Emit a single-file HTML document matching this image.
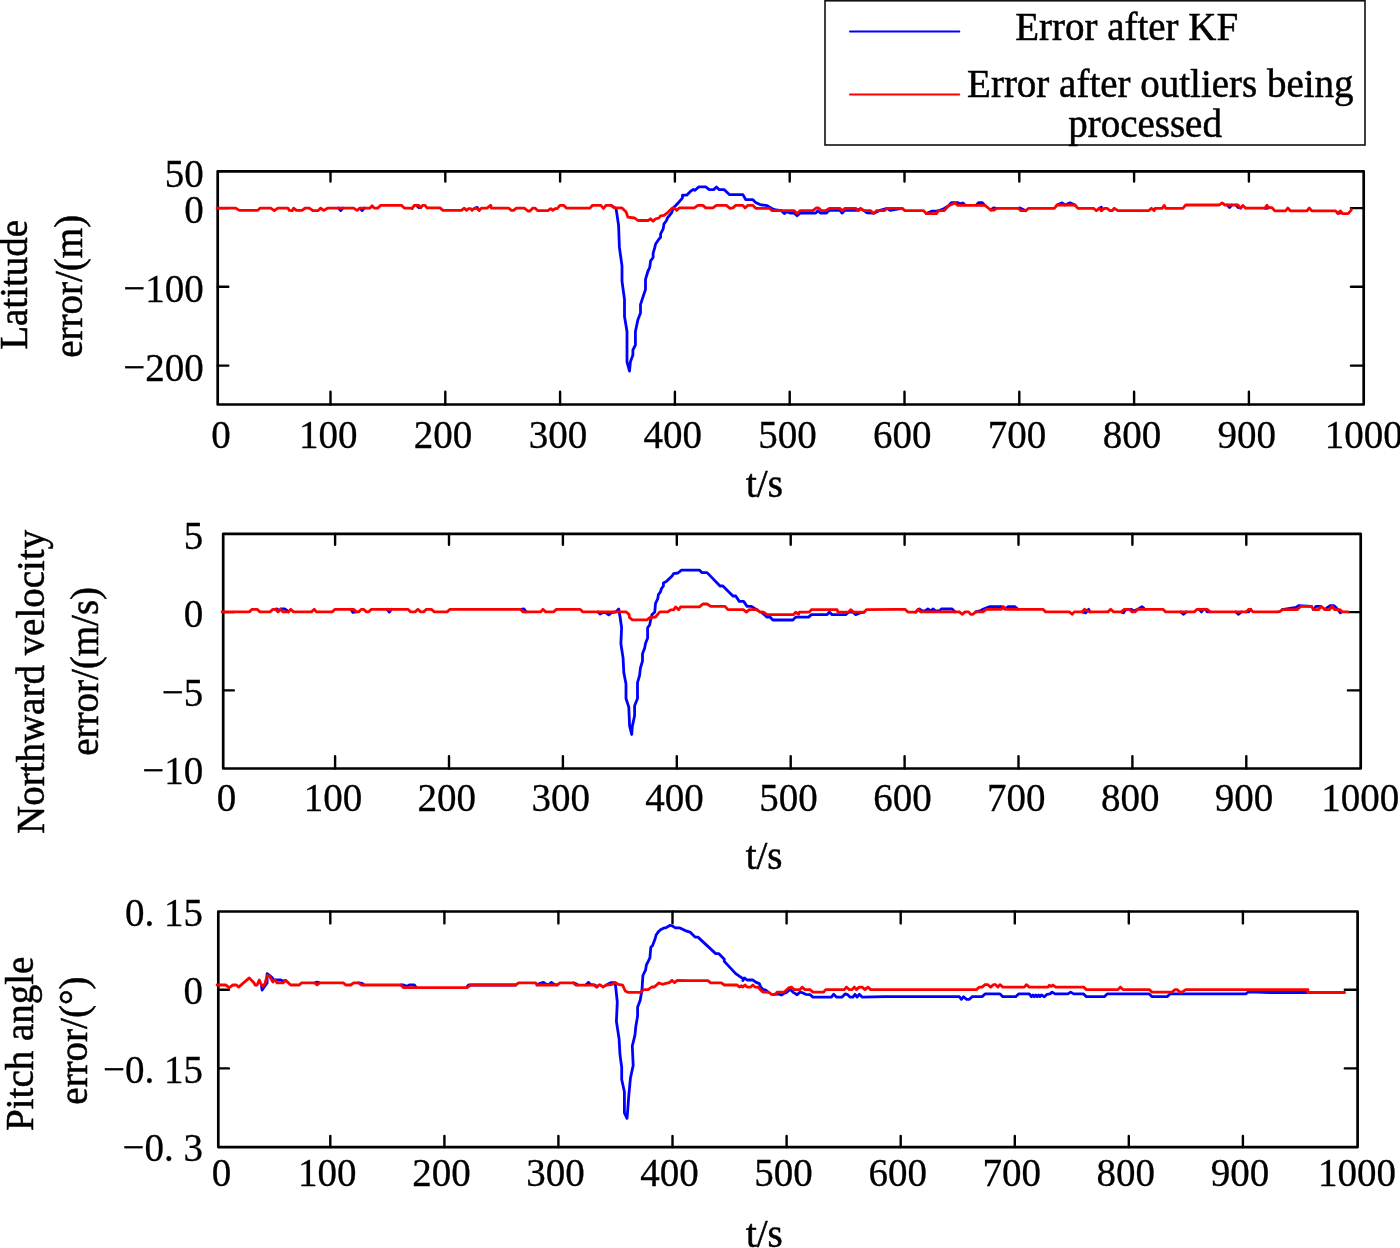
<!DOCTYPE html><html><head><meta charset="utf-8"><style>html,body{margin:0;padding:0;background:#fff;overflow:hidden}svg{display:block;will-change:transform}text{font-family:"Liberation Serif", serif;font-size:39px;fill:#000;stroke:#000;stroke-width:0.5px}.n{stroke-width:0.3px}</style></head><body>
<svg width="1400" height="1248" viewBox="0 0 1400 1248">
<rect width="1400" height="1248" fill="#fff"/>
<path d="M330.5 404.5V391.8M330.5 171.3V181.5M445.3 404.5V391.8M445.3 171.3V181.5M560.1 404.5V391.8M560.1 171.3V181.5M674.9 404.5V391.8M674.9 171.3V181.5M789.7 404.5V391.8M789.7 171.3V181.5M904.5 404.5V391.8M904.5 171.3V181.5M1019.3 404.5V391.8M1019.3 171.3V181.5M1134.1 404.5V391.8M1134.1 171.3V181.5M1248.9 404.5V391.8M1248.9 171.3V181.5M217.7 208.1H228.3M1363.7 208.1H1350.9M217.7 286.7H228.3M1363.7 286.7H1350.9M217.7 365.6H228.3M1363.7 365.6H1350.9" stroke="#000" stroke-width="2.4" fill="none" stroke-linecap="round"/>
<rect x="217.7" y="171.3" width="1146.0" height="233.2" fill="none" stroke="#000" stroke-width="2.7" stroke-linejoin="round"/>
<path d="M338.5 208.1L340.7 210.6L342.9 208.1M359.9 208.2L362.1 210.6L364.3 208.1M416.4 205.3L418.6 207.6L420.8 207.5M474.9 208.2L477.1 207.4L479.3 210.4M611.0 205.3L616.1 208.7L618.6 225.5L619.4 247.4L622.0 265.9L622.0 281.1L624.5 299.6L624.5 316.4L627.0 331.5L627.0 361.8L629.5 371.1L630.4 361.8L632.9 355.1L632.9 350.0L635.4 345.0L635.4 331.5L637.9 319.8L640.5 313.0L640.5 304.6L643.8 294.5L645.5 289.5L645.5 279.4L648.0 271.0L649.7 267.6L650.6 260.9L653.1 257.5L653.1 253.3L654.8 247.4L655.6 244.0L659.0 239.0L660.6 237.3L660.6 233.9L663.2 228.9L664.0 223.8L666.5 220.5L667.4 218.0L671.6 212.9L673.3 207.9L678.3 202.8L682.5 197.8L682.5 195.2L686.7 195.2L690.9 191.0L692.1 190.3L693.4 189.4L695.0 190.3L698.6 186.9L705.7 186.9L709.3 189.7L713.6 189.7L716.4 186.9L719.3 189.7L724.3 189.7L729.3 194.6L742.9 194.6L745.7 199.7L752.9 199.7L755.7 202.6L760.0 204.6L767.1 205.7L771.4 208.3L775.7 210.0L781.4 210.7L784.3 213.6L787.1 211.7L790.0 213.1L794.3 213.1L797.1 215.7L800.0 213.1L815.7 213.1L817.9 210.7L820.7 213.1L826.4 213.1L829.3 210.3L840.0 210.3L842.1 213.1L845.0 210.3L857.1 210.3L860.0 208.9M863.6 210.3L867.1 212.9L874.3 213.1L877.1 211.7L880.0 210.3L887.1 208.3L890.0 210.3L902.1 208.3M926.4 213.6L932.1 211.1L936.4 211.1L938.6 210.7L943.6 208.9L948.6 205.7L951.4 202.6L957.9 202.6L960.7 204.3L962.9 202.9L965.0 205.0M976.4 205.0L978.6 202.6L982.1 202.6L985.0 205.4M990.7 210.0L993.6 207.9L996.4 208.3M1018.6 208.3L1020.0 207.9L1025.7 210.7M1057.1 205.0L1062.1 202.9L1065.0 205.0L1070.0 202.9L1075.0 205.0M1099.3 208.3L1101.4 207.2L1101.4 210.7M1227.4 205.0L1229.6 207.5L1231.8 205.0M1236.0 205.0L1238.2 207.7L1240.4 207.9M1264.7 208.1L1266.9 208.3L1269.1 207.6M1337.3 212.9L1339.5 213.1L1341.7 212.6" fill="none" stroke="#0000ff" stroke-width="2.8" stroke-linejoin="round" stroke-linecap="round"/>
<polyline points="217.7,208.1 217.1,208.1 235.7,208.1 239.3,210.4 257.9,210.4 260.0,208.1 270.7,208.1 274.3,210.7 277.9,208.1 287.9,208.1 289.3,210.4 292.1,210.7 293.6,208.1 296.4,210.4 302.1,210.4 305.0,208.1 309.3,208.1 312.9,210.7 317.9,210.7 320.7,208.1 323.6,210.4 327.9,208.1 353.6,208.1 357.1,210.4 360.0,208.1 370.0,208.1 372.1,205.7 374.3,208.1 377.9,208.1 380.7,205.3 401.4,205.3 404.3,208.1 410.7,208.1 412.1,208.6 414.3,205.3 415.0,205.3 418.6,205.3 420.7,207.6 422.9,205.3 425.0,205.3 427.1,207.9 440.0,207.9 442.9,210.4 461.4,210.4 464.3,208.1 466.4,210.4 468.6,208.6 470.7,208.6 472.1,210.4 474.3,208.1 477.1,208.6 479.3,210.4 481.4,208.1 487.1,208.1 489.3,206.4 490.7,205.3 491.4,208.1 508.6,208.1 511.4,210.4 513.6,210.4 516.4,208.1 524.3,208.1 527.9,211.0 530.0,211.0 532.9,208.1 535.0,208.1 537.9,210.7 547.9,210.7 550.7,208.6 552.9,210.4 555.0,208.6 557.1,208.6 560.0,205.3 563.6,205.3 566.4,208.1 590.0,208.1 592.5,205.3 600.9,205.3 603.5,208.4 606.0,205.3 611.0,205.3 614.4,207.9 622.0,207.9 626.2,212.1 627.8,217.1 634.6,218.0 637.9,220.5 648.0,220.5 650.6,218.8 653.1,221.3 655.6,218.8 659.0,218.0 660.6,215.8 664.0,215.4 668.2,212.1 672.4,207.9 675.0,208.7 676.6,210.4 679.2,207.9 686.0,207.9 694.3,207.9 697.9,205.4 702.9,205.4 705.7,207.9 712.9,207.9 716.4,205.4 726.4,205.4 730.0,208.3 732.9,207.9 735.7,205.4 742.9,205.4 745.0,207.9 747.9,205.4 752.9,205.4 755.7,208.3 769.3,208.3 772.1,210.7 794.3,210.7 797.1,213.6 800.0,210.7 812.9,210.7 816.4,207.9 818.6,207.9 821.4,210.7 825.7,210.7 829.3,208.3 840.0,208.3 842.1,210.7 845.0,208.3 855.7,208.3 858.6,210.7 860.7,208.3 863.6,210.7 870.7,210.7 873.6,213.6 876.4,210.7 884.3,210.7 887.1,208.3 887.1,208.3 902.1,208.3 905.0,210.7 923.6,210.7 926.4,213.6 936.4,213.6 938.6,210.7 944.3,210.7 948.6,205.7 952.1,204.3 955.0,202.9 957.9,205.4 985.0,205.4 990.7,210.0 994.3,210.0 996.4,208.3 1018.6,208.3 1020.7,210.7 1025.7,210.7 1028.6,208.3 1054.3,208.3 1057.1,205.0 1075.0,205.0 1077.9,208.3 1085.0,208.3 1093.6,208.3 1096.4,210.7 1099.3,208.3 1101.4,210.7 1104.3,208.3 1107.1,208.3 1110.0,210.7 1112.1,210.7 1114.3,208.3 1117.9,210.7 1148.6,210.7 1151.4,208.3 1154.3,210.7 1155.0,208.3 1162.1,208.3 1164.3,205.4 1165.7,208.3 1182.9,208.3 1185.7,205.0 1219.3,205.0 1222.1,202.9 1225.0,205.0 1237.9,205.0 1240.7,208.3 1242.9,205.4 1245.7,208.3 1246.0,208.1 1265.1,208.1 1266.9,205.3 1268.8,207.6 1272.0,207.6 1274.8,210.9 1285.5,210.9 1287.8,208.1 1290.6,210.9 1306.9,210.9 1309.2,208.1 1312.0,210.9 1335.6,210.9 1338.0,213.7 1340.3,210.9 1342.6,213.7 1348.2,213.7 1351.0,210.4 1351.4,209.5" fill="none" stroke="#ff0000" stroke-width="2.8" stroke-linejoin="round" stroke-linecap="round"/>
<text transform="translate(220.9 447.8) scale(1 1.050)" text-anchor="middle" class="n">0</text>
<text transform="translate(328.3 447.8) scale(1 1.050)" text-anchor="middle" class="n">100</text>
<text transform="translate(443.1 447.8) scale(1 1.050)" text-anchor="middle" class="n">200</text>
<text transform="translate(557.9 447.8) scale(1 1.050)" text-anchor="middle" class="n">300</text>
<text transform="translate(672.7 447.8) scale(1 1.050)" text-anchor="middle" class="n">400</text>
<text transform="translate(787.5 447.8) scale(1 1.050)" text-anchor="middle" class="n">500</text>
<text transform="translate(902.3 447.8) scale(1 1.050)" text-anchor="middle" class="n">600</text>
<text transform="translate(1017.1 447.8) scale(1 1.050)" text-anchor="middle" class="n">700</text>
<text transform="translate(1131.9 447.8) scale(1 1.050)" text-anchor="middle" class="n">800</text>
<text transform="translate(1246.7 447.8) scale(1 1.050)" text-anchor="middle" class="n">900</text>
<text transform="translate(1363.7 447.8) scale(1 1.050)" text-anchor="middle" class="n">1000</text>
<text transform="translate(203.7 186.6) scale(1 1.050)" text-anchor="end" class="n">50</text>
<text transform="translate(203.7 223.1) scale(1 1.050)" text-anchor="end" class="n">0</text>
<text transform="translate(203.7 302.0) scale(1 1.050)" text-anchor="end" class="n">−100</text>
<text transform="translate(203.7 380.9) scale(1 1.050)" text-anchor="end" class="n">−200</text>
<text transform="translate(27.4 284.8) rotate(-90) scale(1 1.050)" text-anchor="middle">Latitude</text>
<text transform="translate(82.3 286.3) rotate(-90) scale(1 1.050)" text-anchor="middle">error/(m)</text>
<text transform="translate(746.0 496.9) scale(1 1.050)">t/s</text>
<path d="M335.1 768.5V756.3M335.1 533.9V544.7M449.0 768.5V756.3M449.0 533.9V544.7M562.9 768.5V756.3M562.9 533.9V544.7M676.8 768.5V756.3M676.8 533.9V544.7M790.7 768.5V756.3M790.7 533.9V544.7M904.6 768.5V756.3M904.6 533.9V544.7M1018.5 768.5V756.3M1018.5 533.9V544.7M1132.4 768.5V756.3M1132.4 533.9V544.7M1246.3 768.5V756.3M1246.3 533.9V544.7M223.2 612.1H233.8M1360.7 612.1H1347.9M223.2 690.4H233.8M1360.7 690.4H1347.9" stroke="#000" stroke-width="2.4" fill="none" stroke-linecap="round"/>
<rect x="223.2" y="533.9" width="1137.5" height="234.6" fill="none" stroke="#000" stroke-width="2.7" stroke-linejoin="round"/>
<path d="M275.0 609.3L277.1 609.0L278.6 610.7M280.7 609.0L285.0 609.0L287.1 610.7L288.6 611.9M350.7 609.3L352.9 612.4L356.4 611.9M387.1 609.3L389.3 612.1L391.4 609.3M520.7 609.3L523.9 609.0L525.3 610.7L526.1 611.9M597.9 611.9L600.0 614.1L602.9 612.6L605.8 612.6L608.7 614.8L611.5 612.6L615.9 611.9L618.7 609.0L620.2 617.7L621.6 627.8L620.9 643.7L623.1 658.1L623.8 672.5L626.0 684.0L626.0 698.5L628.8 707.1L629.6 725.9L631.7 734.5L632.4 725.9L634.6 715.8L634.6 705.7L637.5 698.5L637.5 682.6L639.6 675.4L640.4 668.2L642.5 661.0L642.5 653.8L644.7 648.0L645.4 643.7L647.6 637.9L647.6 627.8L649.7 624.9L650.5 620.6L651.9 614.8L654.8 611.9L655.5 603.3L657.7 598.9L658.4 594.6L660.6 591.7L661.3 588.8L663.4 586.0L663.4 583.1L666.3 581.6L672.1 575.9L673.5 573.7L677.9 573.0L681.5 570.1L699.5 570.1L700.0 570.7L702.1 572.6L707.1 572.6L712.9 578.6L720.0 586.0L722.9 586.0L732.9 596.0L735.7 596.0L739.3 601.4L743.6 601.4L747.1 606.4L751.4 606.4L757.1 610.0M761.4 612.1L767.1 617.1L770.0 617.1L772.9 620.0L792.9 620.0L795.7 617.1L808.6 617.1L811.4 614.6L827.1 614.6L829.3 612.1L832.1 614.6L845.7 614.6L848.6 612.1L852.9 612.1L855.7 614.6L860.0 612.9L864.3 612.1M915.7 612.1L919.3 609.0L922.1 611.0L925.0 611.0L927.9 609.0L930.7 611.0L932.9 609.0L935.7 611.0L939.3 611.0L941.4 609.0L952.1 609.0L955.0 611.9M975.7 611.9L980.7 610.7L982.9 609.3L989.3 606.7L1002.1 606.7L1005.0 609.3L1007.9 606.7L1015.0 606.7L1017.9 609.3M1082.1 611.9L1085.7 612.9L1088.6 609.3L1090.0 611.9M1121.4 611.9L1123.6 612.9L1125.7 609.3L1131.4 609.3L1132.9 611.0L1137.9 609.3L1142.1 606.7L1145.0 609.3M1180.7 611.9L1183.6 614.3L1186.4 611.9M1199.3 609.3L1201.4 611.9L1203.6 609.3M1205.7 609.3L1207.1 611.9L1210.0 611.9M1235.7 611.9L1238.6 614.3L1241.4 611.9M1246.4 611.9L1248.6 611.9L1250.7 609.3M1282.2 609.6L1296.1 607.4L1298.6 605.7L1311.5 606.4M1313.4 609.6L1316.0 606.4L1320.5 606.4M1325.0 609.6L1327.6 607.4L1330.1 605.7L1334.0 605.7L1336.6 608.0L1340.4 612.8L1341.7 611.9" fill="none" stroke="#0000ff" stroke-width="2.8" stroke-linejoin="round" stroke-linecap="round"/>
<polyline points="223.2,611.9 222.1,611.9 249.3,611.9 252.1,609.3 257.1,609.3 260.0,611.9 270.0,611.9 272.9,609.3 275.7,609.3 277.9,611.9 280.7,609.3 282.9,611.9 288.6,611.9 290.7,609.3 293.6,611.9 311.4,611.9 314.3,609.3 316.4,611.9 332.1,611.9 335.0,609.3 353.6,609.3 356.4,611.9 358.6,611.9 361.4,609.3 363.6,609.3 366.4,611.9 368.6,611.9 371.4,609.3 407.9,609.3 410.7,611.9 415.0,611.9 417.9,609.3 420.7,611.9 423.6,611.9 426.4,609.3 431.4,609.3 434.3,611.9 447.1,611.9 450.0,609.3 520.7,609.3 522.9,611.9 540.7,611.9 542.9,609.3 545.7,611.9 553.6,611.9 556.4,609.3 580.0,609.3 582.9,611.9 600.0,611.9 626.0,611.9 628.8,614.1 629.6,617.7 632.4,619.9 646.9,619.9 649.7,617.7 655.5,617.0 659.8,611.9 667.8,611.9 670.6,609.8 673.5,609.8 675.7,606.9 678.6,609.8 680.7,606.9 699.5,606.9 700.0,606.4 702.9,604.0 707.1,604.0 710.7,606.4 725.0,606.4 727.9,609.7 743.6,609.7 746.4,612.1 749.3,609.7 757.1,609.7 760.0,612.1 763.6,612.1 767.1,614.6 793.6,614.6 795.7,612.1 798.6,614.3 799.3,612.1 809.3,612.1 811.4,609.7 837.1,609.7 837.9,612.1 848.6,612.1 850.7,609.7 853.6,612.1 864.3,612.1 866.4,609.7 895.0,609.3 905.0,609.3 907.9,612.1 915.7,612.1 917.9,609.3 920.7,611.9 959.3,611.9 962.1,614.3 965.0,611.9 968.6,611.9 970.7,614.3 972.9,614.3 975.7,611.9 982.9,611.9 986.4,609.3 1001.4,609.3 1003.6,606.7 1006.4,609.3 1042.9,609.3 1045.7,611.9 1069.3,611.9 1072.1,614.3 1074.3,611.9 1082.1,611.9 1084.3,609.3 1090.0,611.9 1107.9,611.9 1110.7,609.3 1113.6,611.9 1121.4,611.9 1124.3,609.3 1129.3,609.3 1132.1,611.9 1135.0,611.9 1137.9,609.3 1162.9,609.3 1165.7,611.9 1194.3,611.9 1197.1,609.3 1207.1,609.3 1210.0,611.9 1246.4,611.9 1248.6,609.3 1250.7,609.3 1252.9,611.9 1277.1,611.9 1280.0,611.5 1282.2,609.6 1297.4,609.6 1300.6,606.4 1311.5,606.4 1313.4,609.6 1318.6,609.6 1321.1,606.4 1325.0,609.6 1329.5,609.6 1332.1,606.4 1334.6,609.6 1339.8,609.6 1342.3,611.9 1348.1,611.9" fill="none" stroke="#ff0000" stroke-width="2.8" stroke-linejoin="round" stroke-linecap="round"/>
<text transform="translate(226.4 810.5) scale(1 1.050)" text-anchor="middle" class="n">0</text>
<text transform="translate(332.9 810.5) scale(1 1.050)" text-anchor="middle" class="n">100</text>
<text transform="translate(446.8 810.5) scale(1 1.050)" text-anchor="middle" class="n">200</text>
<text transform="translate(560.7 810.5) scale(1 1.050)" text-anchor="middle" class="n">300</text>
<text transform="translate(674.6 810.5) scale(1 1.050)" text-anchor="middle" class="n">400</text>
<text transform="translate(788.5 810.5) scale(1 1.050)" text-anchor="middle" class="n">500</text>
<text transform="translate(902.4 810.5) scale(1 1.050)" text-anchor="middle" class="n">600</text>
<text transform="translate(1016.3 810.5) scale(1 1.050)" text-anchor="middle" class="n">700</text>
<text transform="translate(1130.2 810.5) scale(1 1.050)" text-anchor="middle" class="n">800</text>
<text transform="translate(1244.1 810.5) scale(1 1.050)" text-anchor="middle" class="n">900</text>
<text transform="translate(1360.2 810.5) scale(1 1.050)" text-anchor="middle" class="n">1000</text>
<text transform="translate(203.3 549.2) scale(1 1.050)" text-anchor="end" class="n">5</text>
<text transform="translate(203.3 627.4) scale(1 1.050)" text-anchor="end" class="n">0</text>
<text transform="translate(203.3 705.7) scale(1 1.050)" text-anchor="end" class="n">−5</text>
<text transform="translate(203.3 783.8) scale(1 1.050)" text-anchor="end" class="n">−10</text>
<text transform="translate(44.2 681.9) rotate(-90) scale(1 1.050)" text-anchor="middle">Northward velocity</text>
<text transform="translate(98.0 671.4) rotate(-90) scale(1 1.050)" text-anchor="middle">error/(m/s)</text>
<text transform="translate(745.7 868.6) scale(1 1.050)">t/s</text>
<path d="M330.3 1147.1V1135.9M330.3 911.5V923.4M444.4 1147.1V1135.9M444.4 911.5V923.4M558.4 1147.1V1135.9M558.4 911.5V923.4M672.5 1147.1V1135.9M672.5 911.5V923.4M786.6 1147.1V1135.9M786.6 911.5V923.4M900.7 1147.1V1135.9M900.7 911.5V923.4M1014.8 1147.1V1135.9M1014.8 911.5V923.4M1128.8 1147.1V1135.9M1128.8 911.5V923.4M1242.9 1147.1V1135.9M1242.9 911.5V923.4M218.3 989.8H228.9M1357.6 989.8H1344.8M218.3 1068.4H228.9M1357.6 1068.4H1344.8" stroke="#000" stroke-width="2.4" fill="none" stroke-linecap="round"/>
<rect x="218.3" y="911.5" width="1139.3" height="235.6" fill="none" stroke="#000" stroke-width="2.7" stroke-linejoin="round"/>
<path d="M261.4 985.0L262.1 990.0L267.1 982.9L267.1 973.6L272.1 977.6L273.6 980.0L277.9 980.0L280.7 980.0L282.9 981.0L285.7 980.4M315.0 982.9L317.1 982.1L319.3 982.9M358.6 982.9L362.1 983.3L364.3 985.0M400.7 985.0L403.6 985.0L407.1 986.4L409.3 985.0L410.0 985.0L414.3 985.0L416.4 987.6M466.4 987.6L468.6 985.0L515.7 985.0M537.1 985.0L539.3 983.6L543.6 982.4L546.4 984.3L549.3 984.3L551.4 982.4L554.3 984.3L557.1 985.0M573.6 982.9L575.7 983.6L577.9 985.0M585.7 985.0L588.6 982.4L590.0 984.3L595.3 985.2L597.1 987.0M605.9 985.2L611.2 982.6L614.7 982.6L615.6 986.1L617.3 1002.0L616.4 1021.3L619.1 1039.0L620.0 1054.8L621.7 1067.2L621.7 1079.5L624.4 1091.8L624.4 1113.0L627.0 1118.3L627.9 1107.7L628.8 1095.4L630.5 1077.7L633.2 1065.4L632.3 1046.0L634.9 1035.4L635.8 1026.6L637.6 1016.1L637.6 1007.2L640.2 1000.2L642.0 989.6L642.9 975.5L645.5 970.2L646.4 964.9L648.2 961.4L649.9 957.9L650.8 947.3L652.6 945.5L655.2 938.5L656.1 935.0L658.7 931.4L660.5 929.7L664.0 927.9L665.8 927.9L670.2 925.3L672.8 926.2L675.5 927.9L679.9 927.9L685.2 930.6L690.0 932.1L695.0 937.1L697.9 937.1L715.7 953.6L718.6 953.6L724.3 959.3L724.3 961.4L734.3 972.1L735.7 973.6L742.9 978.6L742.9 980.7L744.3 977.9L747.1 980.0L752.9 980.0L755.7 982.1L759.3 983.6L760.7 987.1L762.9 989.3L765.7 990.0L767.9 992.1M772.9 994.3L778.6 993.9L781.4 995.0L785.0 992.9L787.1 992.1L790.0 989.3L792.9 992.1L797.1 994.7L800.0 992.1L802.9 992.9L805.7 994.3L810.0 994.7L812.9 997.1L831.4 997.1L833.6 994.3L836.4 997.1L842.1 997.1L845.0 994.0L847.1 994.3L850.0 997.1L852.9 997.1L855.0 994.3L857.1 997.1L859.3 994.3L862.1 997.1L885.0 996.7L959.3 996.7L961.4 999.3L963.6 996.7L966.4 999.3L969.3 999.3L972.1 996.7L982.1 996.7L985.0 993.9L1000.0 993.9L1002.9 996.7L1015.7 996.7L1018.6 993.9L1029.3 993.9L1031.4 996.7L1032.9 995.0L1034.3 996.7L1035.7 995.0L1037.1 996.7L1038.6 995.0L1040.0 996.7L1041.4 995.0L1044.3 996.7L1047.1 994.3L1050.0 993.9L1052.1 992.1L1055.0 993.9L1067.9 993.9L1070.7 992.1L1073.6 993.9L1080.0 993.9L1083.6 993.9L1086.4 996.7L1104.3 996.7L1107.1 993.9L1149.3 993.9L1152.1 996.7L1167.1 996.7L1170.0 993.9L1245.7 993.9L1248.6 991.9L1270.0 992.5L1306.4 992.5" fill="none" stroke="#0000ff" stroke-width="2.8" stroke-linejoin="round" stroke-linecap="round"/>
<polyline points="218.3,985.0 217.1,985.0 225.7,985.0 229.3,987.6 232.9,985.0 236.4,985.0 238.6,987.1 249.3,977.9 254.3,983.3 255.0,985.0 257.1,985.0 259.3,980.0 260.7,983.6 262.9,986.4 265.0,983.6 267.1,975.7 269.3,976.1 272.9,982.1 273.6,980.7 275.0,980.0 277.1,982.9 282.9,982.9 285.7,980.4 290.7,985.0 299.3,985.0 301.4,982.9 315.0,982.9 317.1,985.0 319.3,982.9 343.6,982.9 345.7,985.0 350.7,985.0 353.6,982.9 358.6,982.9 361.4,985.0 400.7,985.0 403.6,987.6 410.0,987.6 467.1,987.6 470.7,985.0 515.7,985.0 518.6,982.9 535.7,982.9 537.1,985.0 557.1,985.0 560.0,982.9 573.6,982.9 575.7,985.0 590.0,985.2 594.4,985.2 596.2,987.0 599.7,984.7 603.2,987.0 605.9,985.2 611.2,984.7 615.6,982.6 618.2,984.3 622.6,985.2 625.3,991.0 627.9,992.3 640.2,992.3 643.8,989.6 648.2,989.6 651.7,987.0 654.3,987.0 658.7,982.9 662.3,984.3 665.8,983.4 669.3,982.6 672.0,980.4 674.6,982.6 677.3,980.4 690.0,980.7 707.9,980.7 710.7,982.9 721.4,982.9 724.3,985.0 737.1,985.0 739.3,987.1 741.4,985.7 742.9,987.1 745.0,985.0 747.1,987.1 750.7,987.1 752.9,985.0 755.0,987.1 757.9,987.1 761.4,990.7 762.9,992.1 768.6,992.1 771.4,994.3 775.7,994.3 777.1,992.1 784.3,992.1 788.6,987.9 791.4,987.1 794.3,989.6 800.0,989.6 802.1,987.1 805.0,989.6 810.0,989.6 812.9,992.1 823.6,992.1 825.7,989.6 844.3,989.6 846.4,987.1 849.3,989.6 852.1,989.6 854.3,987.1 856.4,989.6 859.3,987.1 862.1,987.1 865.0,989.6 867.9,987.1 870.7,989.6 885.0,989.6 976.4,989.6 979.3,987.1 982.1,987.1 985.0,984.7 987.9,984.7 990.7,987.1 993.6,984.7 995.7,984.7 997.9,987.1 1000.0,984.7 1002.9,987.1 1024.3,987.1 1026.4,984.7 1029.3,987.1 1047.9,987.1 1049.3,985.3 1051.4,986.4 1052.9,985.0 1055.7,987.1 1080.0,987.1 1083.6,987.1 1086.4,989.6 1117.9,989.6 1120.3,987.1 1122.9,989.6 1149.3,989.6 1152.1,992.1 1172.1,992.1 1175.0,989.6 1177.1,989.6 1180.0,992.1 1182.1,992.1 1185.7,989.6 1270.0,989.6 1307.9,989.6 1307.9,992.5 1344.6,992.5" fill="none" stroke="#ff0000" stroke-width="2.8" stroke-linejoin="round" stroke-linecap="round"/>
<text transform="translate(221.5 1185.9) scale(1 1.050)" text-anchor="middle" class="n">0</text>
<text transform="translate(327.3 1185.9) scale(1 1.050)" text-anchor="middle" class="n">100</text>
<text transform="translate(441.4 1185.9) scale(1 1.050)" text-anchor="middle" class="n">200</text>
<text transform="translate(555.4 1185.9) scale(1 1.050)" text-anchor="middle" class="n">300</text>
<text transform="translate(669.5 1185.9) scale(1 1.050)" text-anchor="middle" class="n">400</text>
<text transform="translate(783.6 1185.9) scale(1 1.050)" text-anchor="middle" class="n">500</text>
<text transform="translate(897.7 1185.9) scale(1 1.050)" text-anchor="middle" class="n">600</text>
<text transform="translate(1011.8 1185.9) scale(1 1.050)" text-anchor="middle" class="n">700</text>
<text transform="translate(1125.8 1185.9) scale(1 1.050)" text-anchor="middle" class="n">800</text>
<text transform="translate(1239.9 1185.9) scale(1 1.050)" text-anchor="middle" class="n">900</text>
<text transform="translate(1357.0 1185.9) scale(1 1.050)" text-anchor="middle" class="n">1000</text>
<text transform="translate(203.0 925.8) scale(1 1.050)" text-anchor="end" class="n">0. 15</text>
<text transform="translate(203.0 1004.1) scale(1 1.050)" text-anchor="end" class="n">0</text>
<text transform="translate(203.0 1082.7) scale(1 1.050)" text-anchor="end" class="n">−0. 15</text>
<text transform="translate(203.0 1161.4) scale(1 1.050)" text-anchor="end" class="n">−0. 3</text>
<text transform="translate(32.9 1043.8) rotate(-90) scale(1 1.050)" text-anchor="middle">Pitch angle</text>
<text transform="translate(86.5 1040.6) rotate(-90) scale(1 1.050)" text-anchor="middle">error/(°)</text>
<text transform="translate(745.9 1247.4) scale(1 1.050)">t/s</text>
<rect x="825" y="0.8" width="540" height="144.2" fill="none" stroke="#111" stroke-width="1.6"/>
<path d="M850 31.4H959.3" stroke="#0000ff" stroke-width="2" stroke-linecap="round"/>
<path d="M850 94.6H959.3" stroke="#ff0000" stroke-width="2" stroke-linecap="round"/>
<text transform="translate(1015.2 40.0) scale(1 1.050)">Error after KF</text>
<text transform="translate(967.1 97.1) scale(1 1.050)">Error after outliers being</text>
<text transform="translate(1068.2 137.3) scale(1 1.050)">processed</text>
</svg></body></html>
